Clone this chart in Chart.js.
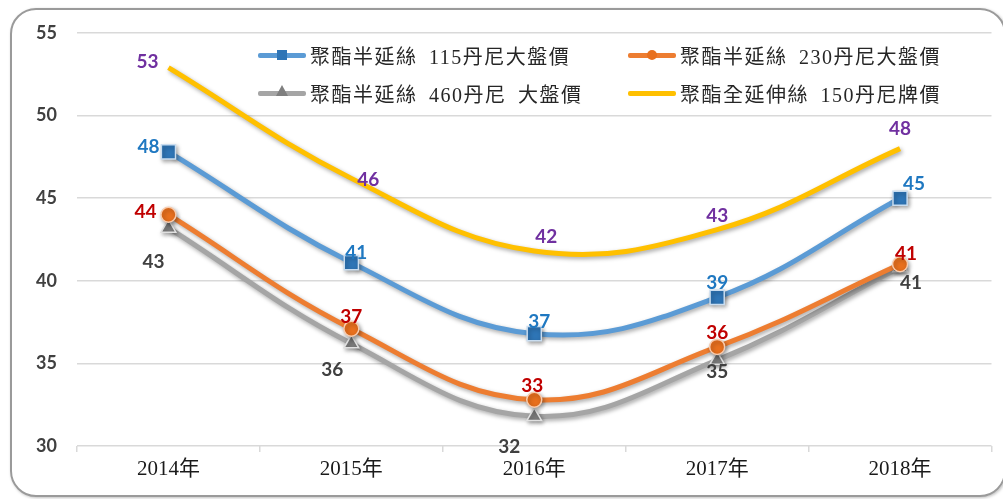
<!DOCTYPE html>
<html><head><meta charset="utf-8">
<script src="https://cdn.jsdelivr.net/npm/chart.js@4/dist/chart.umd.min.js"></script>
<style>
html,body{margin:0;padding:0;background:#fff;}
#wrap{position:relative;width:1003px;height:499px;overflow:hidden;background:#fff;}
#c{position:absolute;left:0;top:0;}
#frame{position:absolute;left:10px;top:8px;width:996px;height:489px;border:2px solid #9a9a9a;border-radius:26px;box-sizing:border-box;pointer-events:none;box-shadow:1px 1px 3px rgba(0,0,0,0.25);}
.leg{position:absolute;height:24px;display:flex;align-items:center;white-space:pre;}
.sw{position:relative;width:48px;height:24px;margin-right:4px;}
.sw .ln{position:absolute;left:0;top:9.5px;width:48px;height:5px;border-radius:2px;}
.sw .mk{position:absolute;}
.tx{font-family:"Liberation Serif","Noto Sans CJK TC",serif;font-size:20px;color:#262626;word-spacing:5px;letter-spacing:1.5px;}
</style></head>
<body><div id="wrap"><canvas id="c" width="1003" height="499"></canvas><div id="frame"></div></div>
<script>
const categories = ['2014年','2015年','2016年','2017年','2018年'];
const seriesNames = ['聚酯半延絲 115丹尼大盤價','聚酯半延絲 230丹尼大盤價','聚酯半延絲 460丹尼 大盤價','聚酯全延伸絲 150丹尼牌價'];
const pet115 = [47.8, 41.1, 36.8, 39.0, 45.0];
const pet230 = [44.0, 37.1, 32.8, 36.0, 41.0];
const pet460 = [43.2, 36.2, 31.8, 35.2, 40.8];
const fdy150 = [52.9, 46.2, 41.8, 43.1, 48.0];
const yTicks = [30, 35, 40, 45, 50, 55];

const lineColors = ['#5B9BD5','#ED7D31','#A5A5A5','#FFC000'];
const labelColors = ['#1F78C1','#C00000','#404040','#7030A0'];
// label offsets (style only): [dx, dy] from each point
const labelOffsets = [
  [[-20,-5],[5,-10],[5,-12],[0,-14],[14,-14]],
  [[-23,-3],[0,-12],[-2,-14],[0,-14],[6,-10]],
  [[-15,34],[-19,26],[-25,31],[0,12],[11,15]],
  [[-21,-6],[17,1],[12,-14],[0,-14],[0,-20]]
];

const shadowPlugin = {
  id:'shadow',
  beforeDatasetDraw(chart){ const ctx=chart.ctx; ctx.save(); ctx.shadowColor='rgba(0,0,0,0.35)'; ctx.shadowBlur=4; ctx.shadowOffsetX=1.5; ctx.shadowOffsetY=2; },
  afterDatasetDraw(chart){ chart.ctx.restore(); }
};
const labelPlugin = {
  id:'vlabels',
  afterDatasetsDraw(chart){
    const ctx=chart.ctx;
    chart.data.datasets.forEach((ds,i)=>{
      const meta=chart.getDatasetMeta(i);
      meta.data.forEach((pt,j)=>{
        const o=labelOffsets[i][j];
        ctx.save();
        ctx.font='bold 19px Lato';
        ctx.fillStyle=labelColors[i];
        ctx.textAlign='center'; ctx.textBaseline='middle';
        ctx.fillText(String(Math.round(ds.data[j])), pt.x+o[0], pt.y+o[1]);
        ctx.restore();
      });
    });
  }
};

const data = {
  labels: categories,
  datasets: [
    {label:seriesNames[0], data:pet115, borderColor:lineColors[0], backgroundColor:'#2E75B6', pointStyle:'rect', pointRadius:10, pointBorderColor:'#C9DDF0', pointBorderWidth:1.5, order:1},
    {label:seriesNames[1], data:pet230, borderColor:lineColors[1], backgroundColor:'#E8701E', pointStyle:'circle', pointRadius:7.5, pointBorderColor:'#F8CBAD', pointBorderWidth:1.5, order:2},
    {label:seriesNames[2], data:pet460, borderColor:lineColors[2], backgroundColor:'#7F7F7F', pointStyle:'triangle', pointRadius:8.5, pointBorderColor:'#E0E0E0', pointBorderWidth:1.5, order:3},
    {label:seriesNames[3], data:fdy150, borderColor:lineColors[3], backgroundColor:lineColors[3], pointRadius:0, order:4}
  ]
};
data.datasets.forEach(d=>{ d.borderWidth=5; d.tension=0.4; d.fill=false; d.pointHoverRadius=d.pointRadius; });

new Chart(document.getElementById('c'), {
  type:'line',
  data,
  plugins:[shadowPlugin,labelPlugin],
  options:{
    responsive:false, animation:false, devicePixelRatio:1,
    layout:{padding:{left:0,right:10,top:33,bottom:0}},
    plugins:{legend:{display:false}, tooltip:{enabled:false}},
    scales:{
      x:{offset:true,
         grid:{display:true, drawOnChartArea:false, offset:true, tickLength:6, color:'#d9d9d9', lineWidth:1.5},
         border:{display:false},
         ticks:{font:{family:'"Liberation Serif","Noto Sans CJK TC",serif', size:21}, color:'#1a1a1a', padding:5},
         afterFit(s){ s.height=53; }},
      y:{min:30, max:55,
         afterBuildTicks(s){ s.ticks = yTicks.map(v=>({value:v})); },
         ticks:{padding:20, color:'#404040', font:{family:'Lato', size:18, weight:'bold'}},
         grid:{color:'#d9d9d9', lineWidth:1.5, drawTicks:false},
         border:{display:false},
         afterFit(s){ s.width=77; }}
    }
  }
});

// HTML legend built from series names
const legPos = [[258,43],[628,43],[258,81],[628,81]];
const wrap = document.getElementById('wrap');
seriesNames.forEach((name,i)=>{
  const d=document.createElement('div'); d.className='leg';
  d.style.left=legPos[i][0]+'px'; d.style.top=legPos[i][1]+'px';
  const sw=document.createElement('span'); sw.className='sw';
  const ln=document.createElement('i'); ln.className='ln'; ln.style.background=lineColors[i]; sw.appendChild(ln);
  if(i===0){ const m=document.createElement('i'); m.className='mk'; m.style.cssText='left:19px;top:7px;width:10px;height:10px;background:#2E75B6;'; sw.appendChild(m); }
  if(i===1){ const m=document.createElement('i'); m.className='mk'; m.style.cssText='left:19px;top:7px;width:10px;height:10px;border-radius:50%;background:#E8701E;'; sw.appendChild(m); }
  if(i===2){ const m=document.createElement('i'); m.className='mk'; m.style.cssText='left:18px;top:4px;width:0;height:0;border-left:6px solid transparent;border-right:6px solid transparent;border-bottom:11px solid #7F7F7F;'; sw.appendChild(m); }
  const tx=document.createElement('span'); tx.className='tx'; tx.textContent=name;
  d.appendChild(sw); d.appendChild(tx); wrap.appendChild(d);
});
</script></body></html>
